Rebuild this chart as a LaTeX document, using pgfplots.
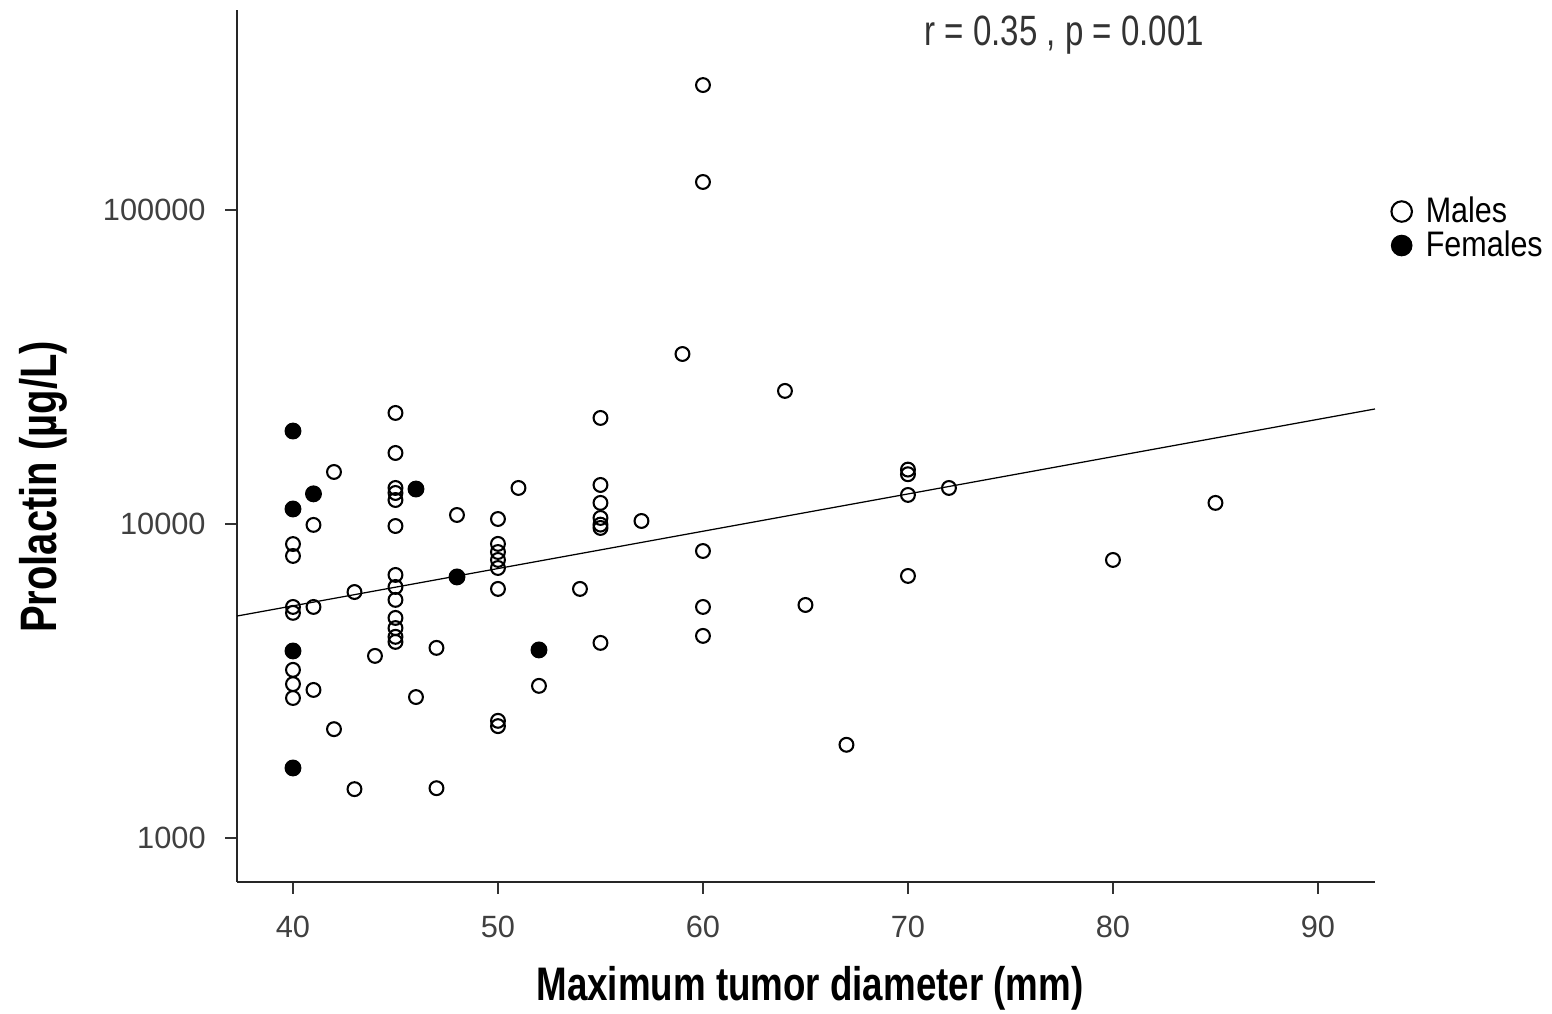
\documentclass[border=0pt]{standalone}
\usepackage{pgfplots}
\pgfplotsset{compat=1.18}
\usepackage{fontspec}
\setmainfont{Liberation Sans}
\newfontfamily\condfont[FakeStretch=0.78]{Liberation Sans}
\newfontfamily\legfont[FakeStretch=0.86]{Liberation Sans}

\begin{document}
\begin{tikzpicture}
  \begin{axis}[
      scale only axis,
      width=410.7pt, height=314.7pt,
      ymode=log,
      xmin=37.27, xmax=92.78,
      ymin=724, ymax=433500,
      axis lines=left,
      axis line style={-, line width=0.7pt, black!85},
      tick align=outside,
      major tick length=4.3pt,
      tick style={line width=0.5pt, black!80},
      xtick={40,50,60,70,80,90},
      ytick={1000,10000,100000},
      yticklabels={1000,10000,100000},
      minor ytick={},
      log basis y=10,
      ticklabel style={font=\fontsize{11.1pt}{13pt}\selectfont, text=black!75},
      yticklabel style={xshift=-3.5pt},
      xticklabel style={yshift=-4.6pt},
      /pgf/number format/assume math mode=true,
      xlabel={\condfont\bfseries Maximum tumor diameter (mm)},
      ylabel={\condfont\bfseries Prolactin (µg/L)},
      xlabel style={font=\fontsize{17pt}{20pt}\selectfont,
        at={(axis description cs:0.5035,-0.1216)}, anchor=center},
      ylabel style={font=\fontsize{18.5pt}{21pt}\selectfont,
        at={(axis description cs:-0.1705,0.453)}, anchor=center, rotate=0},
      clip=false,
      legend cell align=left,
      legend style={draw=none, fill=none,
        at={(axis description cs:1.014,0.793)}, anchor=north west,
        font=\legfont\fontsize{12.8pt}{14pt}\selectfont,
        row sep=-2.5pt, inner sep=0pt,
        /tikz/every odd column/.append style={column sep=3pt}},
      legend image code/.code={
        \draw[#1, mark size=3.7pt] plot coordinates {(0.12cm,0cm)};
      },
    ]
    % males
    \addplot[only marks, mark=o, mark size=2.5pt,
      mark options={line width=0.75pt, black}] coordinates {
      (40,8630) (40,7910) (40,5440) (40,5210) (40,3430) (40,3090) (40,2790)
      (41,9930) (41,5440) (41,2960)
      (42,14640) (42,2220)
      (43,6070) (43,1430)
      (44,3800)
      (45,22570) (45,16830) (45,13020) (45,12550) (45,11920) (45,9850)
      (45,6880) (45,6300) (45,5730) (45,5020) (45,4660) (45,4370) (45,4210)
      (46,2810)
      (47,4030) (47,1440)
      (48,10680)
      (50,10370) (50,8640) (50,8140) (50,7680) (50,7240) (50,6210)
      (50,2360) (50,2270)
      (51,13020)
      (52,3050)
      (54,6210)
      (55,21760) (55,13310) (55,11670) (55,10450) (55,9950) (55,9710) (55,4180)
      (57,10220)
      (59,34780)
      (60,250000) (60,122800) (60,8200) (60,5440) (60,4400)
      (64,26530)
      (65,5520)
      (67,1980)
      (70,14900) (70,14400) (70,12370) (70,6830)
      (72,13020)
      (80,7680)
      (85,11670)
    };
    \addlegendentry{Males}
    % females
    \addplot[only marks, mark=*, mark size=2.85pt,
      mark options={black, fill=black}] coordinates {
      (40,19770) (40,11160) (40,3940) (40,1670)
      (41,12470) (46,12920) (48,6780) (52,3970)
    };
    \addlegendentry{Females}
    % fit line
    \addplot[black, line width=0.45pt, forget plot] coordinates {
      (37.27,5090) (92.78,23240)
    };
    \node[font=\condfont\fontsize{15.3pt}{17pt}\selectfont, text=black!80]
      at (axis description cs:0.727,0.971) {r = 0.35 , p = 0.001};
    \coordinate (bbl) at (axis description cs:-0.2083,-0.1514);
    \coordinate (btr) at (axis description cs:1.1556,1.0115);
  \end{axis}
  \pgfresetboundingbox
  \path (bbl) rectangle (btr);
\end{tikzpicture}
\end{document}
